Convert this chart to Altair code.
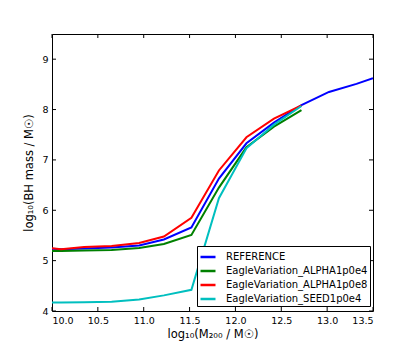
import altair as alt
import pandas as pd

series_names = ["REFERENCE", "EagleVariation_ALPHA1p0e4", "EagleVariation_ALPHA1p0e8", "EagleVariation_SEED1p0e4"]
series_colors = ["#0000ff", "#008000", "#ff0000", "#00bfbf"]

x_ref = [10.0, 10.1, 10.35, 10.65, 10.95, 11.22, 11.52, 11.82, 12.12, 12.42, 12.72, 13.02, 13.32, 13.5]
y_ref = [5.235, 5.225, 5.24, 5.26, 5.30, 5.42, 5.66, 6.63, 7.33, 7.74, 8.09, 8.35, 8.51, 8.62]

x_a4 = [10.0, 10.1, 10.35, 10.65, 10.95, 11.22, 11.52, 11.82, 12.12, 12.42, 12.72]
y_a4 = [5.19, 5.19, 5.20, 5.21, 5.25, 5.33, 5.51, 6.45, 7.25, 7.66, 7.99]

x_a8 = [10.0, 10.1, 10.35, 10.65, 10.95, 11.22, 11.52, 11.82, 12.12, 12.42, 12.72]
y_a8 = [5.245, 5.225, 5.27, 5.29, 5.35, 5.48, 5.85, 6.79, 7.45, 7.82, 8.08]

x_s4 = [10.0, 10.1, 10.35, 10.65, 10.95, 11.22, 11.52, 11.82, 12.12, 12.42, 12.72]
y_s4 = [4.17, 4.17, 4.175, 4.185, 4.23, 4.31, 4.42, 6.24, 7.23, 7.70, 8.07]

x_ticks = [10.0, 10.5, 11.0, 11.5, 12.0, 12.5, 13.0, 13.5]
y_ticks = [4, 5, 6, 7, 8, 9]

W, H = 321, 277

rows = []
for name, xs, ys in zip(series_names,
                        [x_ref, x_a4, x_a8, x_s4],
                        [y_ref, y_a4, y_a8, y_s4]):
    for i, (a, b) in enumerate(zip(xs, ys)):
        rows.append({"series": name, "x": a, "y": b, "i": i})
df = pd.DataFrame(rows)

xscale = alt.Scale(domain=[10, 13.5], nice=False, zero=False)
yscale = alt.Scale(domain=[4, 9.5], nice=False, zero=False)

lines = alt.Chart(df).mark_line(strokeWidth=2, clip=True).encode(
    x=alt.X("x:Q", scale=xscale,
            axis=alt.Axis(values=x_ticks, format=".1f", title="log₁₀(M₂₀₀ / M☉)",
                          titlePadding=4, labelPadding=4)),
    y=alt.Y("y:Q", scale=yscale,
            axis=alt.Axis(values=y_ticks, format="d", title="log₁₀(BH mass / M☉)",
                          titlePadding=7, labelPadding=4)),
    color=alt.Color("series:N",
                    scale=alt.Scale(domain=series_names, range=series_colors),
                    sort=series_names,
                    legend=alt.Legend(title=None, orient="none", legendX=145, legendY=212,
                                      symbolType="stroke", symbolSize=225, symbolStrokeWidth=2.5,
                                      labelFontSize=10, labelFont="DejaVu Sans", labelColor="black",
                                      strokeColor="black", fillColor="white", padding=2,
                                      rowPadding=0, labelOffset=9, cornerRadius=0,
                                      offset=0)),
    order="i:Q",
    detail="series:N",
)

xt = pd.DataFrame({"v": x_ticks})
yt = pd.DataFrame({"v": y_ticks})

xtick_bottom = alt.Chart(xt).mark_rule(color="black", strokeWidth=1).encode(
    x=alt.X("v:Q", scale=xscale), y=alt.value(H), y2=alt.value(H - 4))
xtick_top = alt.Chart(xt).mark_rule(color="black", strokeWidth=1).encode(
    x=alt.X("v:Q", scale=xscale), y=alt.value(0), y2=alt.value(4))
ytick_left = alt.Chart(yt).mark_rule(color="black", strokeWidth=1).encode(
    y=alt.Y("v:Q", scale=yscale), x=alt.value(0), x2=alt.value(4))
ytick_right = alt.Chart(yt).mark_rule(color="black", strokeWidth=1).encode(
    y=alt.Y("v:Q", scale=yscale), x=alt.value(W), x2=alt.value(W - 4))

chart = alt.layer(lines, xtick_bottom, xtick_top, ytick_left, ytick_right).properties(
    width=W, height=H,
    autosize=alt.AutoSizeParams(type="none"),
    padding={"left": 44, "top": 26, "right": 26, "bottom": 40},
).configure_view(
    stroke="black", strokeWidth=1
).configure_axis(
    grid=False, domain=False, tickSize=0,
    labelFont="DejaVu Sans", labelFontSize=9.5, labelColor="black",
    titleFont="DejaVu Sans", titleFontSize=11.5, titleFontWeight="normal", titleColor="black",
)

chart.save("out.html", embed_options={"renderer": "svg", "actions": False})
